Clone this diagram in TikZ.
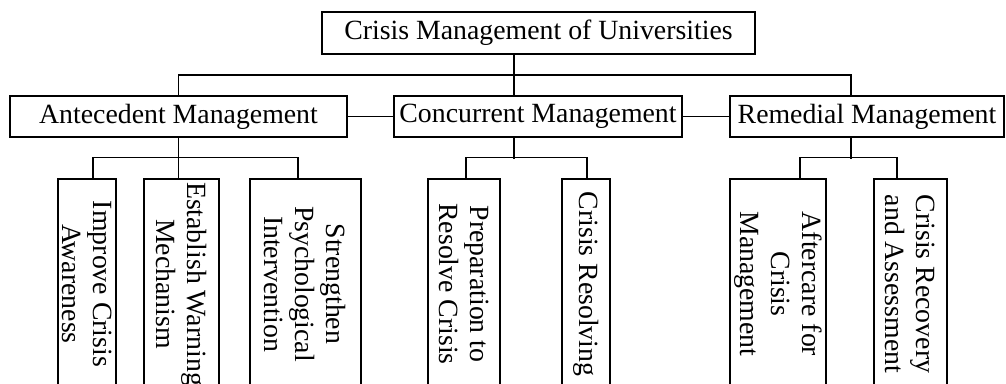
\documentclass[tikz,border=0pt]{standalone}
\usepackage{fontspec}
\setmainfont{Liberation Serif}

\begin{document}
\begin{tikzpicture}[x=1pt,y=-1pt,
  box/.style={draw,line width=1.4pt,inner sep=0pt,font=\fontsize{27.8}{31}\selectfont},
  leaf/.style={box,rotate=-90,minimum width=210pt,align=center},
  conn/.style={line width=1.4pt}]
\useasboundingbox (0,0) rectangle (1006,383);
\clip (0,0) rectangle (1006,383);
\node [box,minimum width=433pt,minimum height=42pt] (top) at (538.5,33) {Crisis Management of Universities};
\node [box,minimum width=337pt,minimum height=41pt] (ant) at (178.5,116.5) {Antecedent Management};
\node [box,minimum width=288pt,minimum height=41pt] (con) at (538,116.5) {Concurrent Management};
\node [box,minimum width=274pt,minimum height=41pt] (rem) at (867,116.5) {Remedial Management};
\node [leaf,minimum height=58pt] (imp) at (87,284) {Improve Crisis\\Awareness};
\node [leaf,minimum height=75pt] (est) at (181.5,284) {Establish Warning\\Mechanism};
\node [leaf,minimum height=111pt] (str) at (305.5,284) {Strengthen\\Psychological\\Intervention};
\node [leaf,minimum height=72pt] (pre) at (464,284) {Preparation to\\Resolve Crisis};
\node [leaf,minimum height=48pt] (res) at (586,284) {Crisis Resolving};
\node [leaf,minimum height=96pt] (aft) at (778,284) {Aftercare for\\Crisis\\Management};
\node [leaf,minimum height=73pt] (rec) at (910.5,284) {Crisis Recovery\\and Assessment};
\coordinate (tj) at (514,75);
\coordinate (rj) at (851,75);
\draw [conn] (top.south -| tj) -- (con.north -| tj);
\draw [conn] (ant.north) |- (rj) -- (rem.north -| rj);
\draw [conn] (ant) -- (con);
\draw [conn] (con) -- (rem);
\draw [conn] (ant.south) -- (ant.south |- est.west);
\draw [conn] ([xshift=6pt]imp.west) -- ++(0,-21) -| ([xshift=-7.5pt]str.west);
\draw [conn] (con.south -| tj) -- ++(0,21);
\draw [conn] ([xshift=2pt]pre.west) -- ++(0,-21) -| ([xshift=1pt]res.west);
\draw [conn] (rem.south -| rj) -- ++(0,21);
\draw [conn] ([xshift=22pt]aft.west) -- ++(0,-21) -| ([xshift=-13.5pt]rec.west);
\end{tikzpicture}
\end{document}
